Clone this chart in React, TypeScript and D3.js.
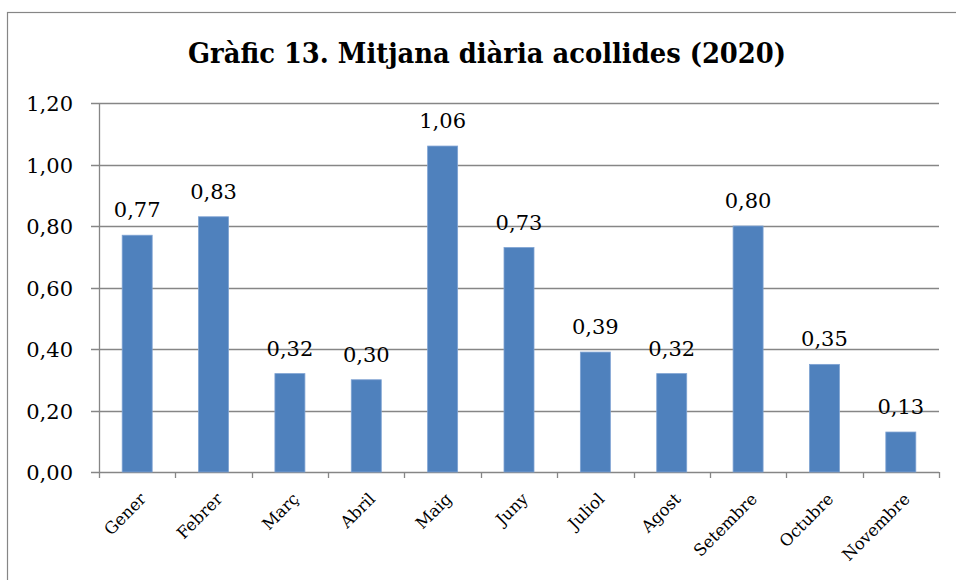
import React from "react";
import * as d3 from "d3";

const categories = ["Gener", "Febrer", "Març", "Abril", "Maig", "Juny", "Juliol", "Agost", "Setembre", "Octubre", "Novembre"];
const values = [0.77, 0.83, 0.32, 0.30, 1.06, 0.73, 0.39, 0.32, 0.80, 0.35, 0.13];
const yTicks = [0, 0.2, 0.4, 0.6, 0.8, 1.0, 1.2];
const title = "Gràfic 13. Mitjana diària acollides (2020)";

const W = 956;
const H = 580;
const plot = { left: 99, right: 939, top: 103, bottom: 472 };
const fmt = (v: number) => v.toFixed(2).replace(".", ",");
const FONT = "'DejaVu Serif', 'Liberation Serif', serif";
const GRID = "#868686";

export default function App() {
  const bandPad = 1 - 30 / ((plot.right - plot.left) / categories.length);
  const x = d3
    .scaleBand<string>()
    .domain(categories)
    .range([plot.left, plot.right])
    .paddingInner(bandPad)
    .paddingOuter(bandPad / 2);
  const step = x.step();
  const y = d3.scaleLinear().domain([0, 1.2]).range([plot.bottom, plot.top]);

  return (
    <svg
      width={W}
      height={H}
      style={{ position: "absolute", left: 0, top: 0, background: "#fff" }}
      fontFamily={FONT}
    >
      <rect x={0} y={0} width={W} height={H} fill="#fff" />
      <rect x={7.5} y={12.5} width={W + 20} height={H + 20} fill="none" stroke={GRID} strokeWidth={1.2} />
      <text
        x={487}
        y={63}
        textAnchor="middle"
        fontSize={27}
        fontWeight="bold"
        textLength={598}
        lengthAdjust="spacingAndGlyphs"
        fill="#000"
      >
        {title}
      </text>
      {yTicks.map((t) => (
        <g key={t}>
          <line x1={91} x2={plot.right} y1={Math.round(y(t)) + 0.5} y2={Math.round(y(t)) + 0.5} stroke={GRID} strokeWidth={1.3} />
          <text x={73} y={y(t) + 8} textAnchor="end" fontSize={21} fill="#000">
            {fmt(t)}
          </text>
        </g>
      ))}
      <line x1={plot.left + 0.5} x2={plot.left + 0.5} y1={plot.top} y2={plot.bottom + 6} stroke={GRID} strokeWidth={1.3} />
      {categories.map((c, i) => {
        const tx = Math.round(plot.left + step * (i + 1)) + 0.5;
        return <line key={"t" + c} x1={tx} x2={tx} y1={plot.bottom} y2={plot.bottom + 6} stroke={GRID} strokeWidth={1.3} />;
      })}
      {categories.map((c, i) => {
        const bx = x(c)!;
        const by = y(values[i]);
        const cx = bx + x.bandwidth() / 2;
        return (
          <g key={c}>
            <rect
              x={bx}
              y={by}
              width={x.bandwidth()}
              height={plot.bottom - by}
              fill="#4F81BD"
              stroke="#7FA3D3"
              strokeWidth={0.8}
            />
            <text x={cx} y={by - 18} textAnchor="middle" fontSize={21} fill="#000">
              {fmt(values[i])}
            </text>
            <text
              transform={`translate(${cx + 10},${500}) rotate(-45)`}
              textAnchor="end"
              fontSize={16.5}
              fill="#000"
            >
              {c}
            </text>
          </g>
        );
      })}
    </svg>
  );
}
